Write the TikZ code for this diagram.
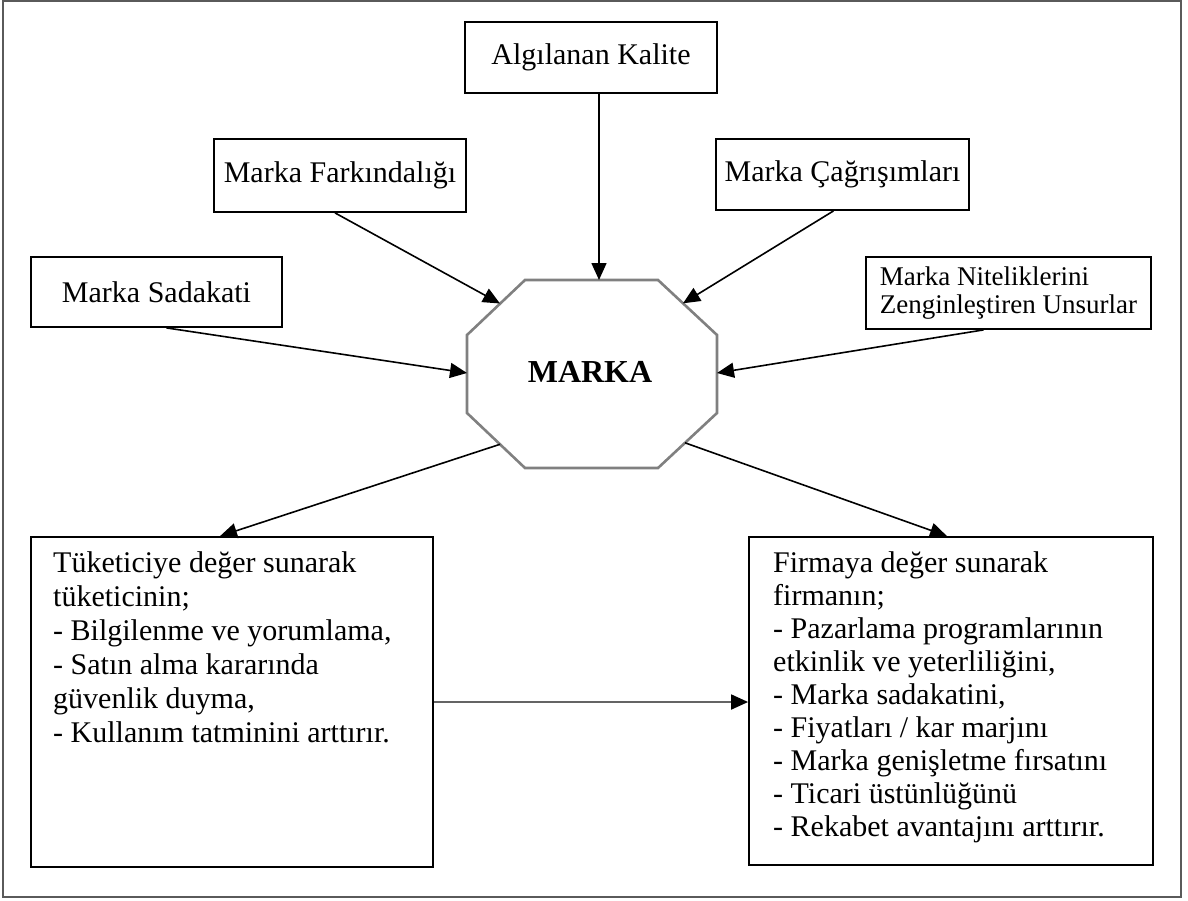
\documentclass[tikz,border=0pt]{standalone}
\usepackage{fontspec}
\setmainfont{Liberation Serif}
\usetikzlibrary{arrows.meta}
\definecolor{framegray}{RGB}{90,90,90}
\definecolor{octgray}{RGB}{128,128,128}
\definecolor{linkgray}{RGB}{100,100,100}
\begin{document}
\begin{tikzpicture}[x=1pt,y=-1pt,
  box/.style={draw=black,line width=1.8pt,rectangle,inner sep=0pt,
    font=\fontsize{30}{34}\selectfont},
  conn/.style={line width=1.6pt,-{Triangle[length=17pt,width=15pt]}},
  btext/.style={anchor=north west,inner sep=0pt,align=left},
  octline/.style={draw=octgray,line width=2.6pt,line join=miter}]
\useasboundingbox (0,0) rectangle (1188,900);
% outer frame
\draw[framegray,line width=2pt] (3,1) rectangle (1181,897);

% source boxes
\node[box,minimum width=252pt,minimum height=71pt] (kalite) at (591,57.5) {Algılanan Kalite};
\node[box,minimum width=252pt,minimum height=73pt] (farkindalik) at (340,175.5) {Marka Farkındalığı};
\node[box,minimum width=253pt,minimum height=71pt] (cagrisim) at (842.5,174.5) {Marka Çağrışımları};
\node[box,minimum width=251pt,minimum height=70pt] (sadakat) at (156.5,292) {Marka Sadakati};
\node[box,minimum width=285pt,minimum height=72pt,align=left,
  font=\fontsize{27}{28}\selectfont] (nitelik) at (1008.5,293)
  {Marka Niteliklerini\\Zenginleştiren Unsurlar};

% central octagon
\coordinate (o1) at (525,280); \coordinate (o2) at (658,280);
\coordinate (o3) at (717,335); \coordinate (o4) at (717,413);
\coordinate (o5) at (658,468); \coordinate (o6) at (525,468);
\coordinate (o7) at (467,413); \coordinate (o8) at (467,335);
\path[octline,fill=white] (o1) -- (o2) -- (o3) -- (o4) -- (o5) -- (o6) -- (o7) -- (o8) -- cycle;
\node[font=\fontsize{32}{36}\selectfont\bfseries] (marka) at (590,372) {MARKA};
\coordinate (oct-n)  at (599,280);
\coordinate (oct-nw) at (500,303.5);
\coordinate (oct-ne) at (683,303.3);
\coordinate (oct-w)  at (467,373);
\coordinate (oct-e)  at (717,373);
\coordinate (oct-sw) at (500,444.3);
\coordinate (oct-se) at (685,442.8);

% result boxes
\node[box,minimum width=402pt,minimum height=330pt] (tuketici) at (232,702) {};
\node[box,minimum width=404pt,minimum height=328pt] (firma) at (951,701) {};
\node[btext,font=\fontsize{30}{34}\selectfont] (tuketici-text) at (53,551)
  {Tüketiciye değer sunarak\\tüketicinin;\\- Bilgilenme ve yorumlama,\\- Satın alma kararında\\güvenlik duyma,\\- Kullanım tatminini arttırır.};
\node[btext,font=\fontsize{30}{33}\selectfont] (firma-text) at (773,551)
  {Firmaya değer sunarak\\firmanın;\\- Pazarlama programlarının\\etkinlik ve yeterliliğini,\\- Marka sadakatini,\\- Fiyatları / kar marjını\\- Marka genişletme fırsatını\\- Ticari üstünlüğünü\\- Rekabet avantajını arttırır.};

% connectors into the brand
\draw[conn] (oct-n |- kalite.south) -- (oct-n);
\draw[conn] ([xshift=-5pt]farkindalik.south) -- (oct-nw);
\draw[conn] ([xshift=-9pt]cagrisim.south) -- (oct-ne);
\draw[conn] ([xshift=10pt]sadakat.south) -- (oct-w);
\draw[conn] ([xshift=-25pt]nitelik.south) -- (oct-e);
% connectors out of the brand
\draw[conn] (oct-sw) -- ([xshift=-12pt]tuketici.north);
\draw[conn] (oct-se) -- ([xshift=-4pt]firma.north);
\draw[line width=1.8pt,draw=linkgray,
  -{Triangle[length=17pt,width=15pt,color=black]}]
  (tuketici.east) -- (tuketici.east -| firma.west);
\end{tikzpicture}
\end{document}
